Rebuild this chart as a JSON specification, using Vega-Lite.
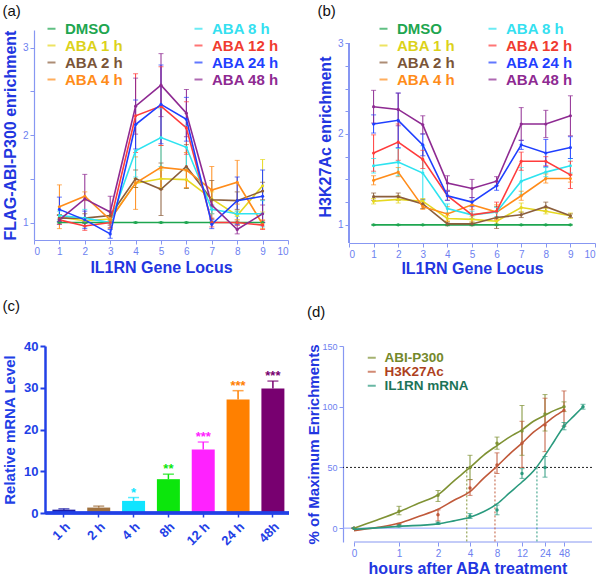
{
  "$schema": "https://vega.github.io/schema/vega-lite/v6.json",
  "padding": {"left": 2, "top": 4, "right": 0, "bottom": 0},
  "spacing": 23,
  "resolve": {"scale": {"color": "independent", "x": "independent", "y": "independent"}, "legend": {"color": "independent"}},
  "config": {
    "font": "Liberation Sans",
    "view": {"stroke": null},
    "axis": {"grid": false, "domainColor": "#8797f2", "tickColor": "#8797f2", "labelColor": "#6d7ff0", "labelFontSize": 10, "titleColor": "#2236e0", "titleFontSize": 16, "titleFontWeight": "bold", "tickSize": 4, "labelPadding": 2, "domainWidth": 1.2, "titlePadding": 4, "labelOverlap": false},
    "title": {"anchor": "start", "frame": "bounds", "fontSize": 15, "fontWeight": "normal", "color": "#111111"},
    "legend": {"labelFontSize": 15, "labelFontWeight": "bold", "symbolType": "stroke", "symbolSize": 64, "symbolStrokeWidth": 2, "labelOffset": 6, "padding": 0, "title": null}
  },
  "datasets": {
    "a": [
      {"series": "DMSO", "locus": 1, "value": 1, "lo": 0.995, "hi": 1.005},
      {"series": "DMSO", "locus": 2, "value": 1, "lo": 0.995, "hi": 1.005},
      {"series": "DMSO", "locus": 3, "value": 1, "lo": 0.995, "hi": 1.005},
      {"series": "DMSO", "locus": 4, "value": 1, "lo": 0.995, "hi": 1.005},
      {"series": "DMSO", "locus": 5, "value": 1, "lo": 0.995, "hi": 1.005},
      {"series": "DMSO", "locus": 6, "value": 1, "lo": 0.995, "hi": 1.005},
      {"series": "DMSO", "locus": 7, "value": 1, "lo": 0.995, "hi": 1.005},
      {"series": "DMSO", "locus": 8, "value": 1, "lo": 0.995, "hi": 1.005},
      {"series": "DMSO", "locus": 9, "value": 1, "lo": 0.995, "hi": 1.005},
      {"series": "ABA 1 h", "locus": 1, "value": 1.06, "lo": 1.03, "hi": 1.09},
      {"series": "ABA 1 h", "locus": 2, "value": 1.02, "lo": 0.99, "hi": 1.05},
      {"series": "ABA 1 h", "locus": 3, "value": 1.04, "lo": 1.01, "hi": 1.07},
      {"series": "ABA 1 h", "locus": 4, "value": 1.45, "lo": 1.40, "hi": 1.50},
      {"series": "ABA 1 h", "locus": 5, "value": 1.50, "lo": 1.40, "hi": 1.60},
      {"series": "ABA 1 h", "locus": 6, "value": 1.49, "lo": 1.39, "hi": 1.59},
      {"series": "ABA 1 h", "locus": 7, "value": 1.27, "lo": 1.19, "hi": 1.35},
      {"series": "ABA 1 h", "locus": 8, "value": 1.08, "lo": 1.03, "hi": 1.13},
      {"series": "ABA 1 h", "locus": 9, "value": 1.42, "lo": 1.12, "hi": 1.72},
      {"series": "ABA 2 h", "locus": 1, "value": 1.05, "lo": 1.01, "hi": 1.09},
      {"series": "ABA 2 h", "locus": 2, "value": 1.05, "lo": 1.00, "hi": 1.10},
      {"series": "ABA 2 h", "locus": 3, "value": 1.08, "lo": 1.03, "hi": 1.13},
      {"series": "ABA 2 h", "locus": 4, "value": 1.50, "lo": 1.40, "hi": 1.60},
      {"series": "ABA 2 h", "locus": 5, "value": 1.38, "lo": 1.08, "hi": 1.68},
      {"series": "ABA 2 h", "locus": 6, "value": 1.64, "lo": 1.39, "hi": 1.89},
      {"series": "ABA 2 h", "locus": 7, "value": 1.26, "lo": 1.04, "hi": 1.48},
      {"series": "ABA 2 h", "locus": 8, "value": 1.25, "lo": 1.15, "hi": 1.35},
      {"series": "ABA 2 h", "locus": 9, "value": 1.36, "lo": 1.26, "hi": 1.46},
      {"series": "ABA 4 h", "locus": 1, "value": 1.18, "lo": 0.93, "hi": 1.43},
      {"series": "ABA 4 h", "locus": 2, "value": 1.30, "lo": 1.25, "hi": 1.35},
      {"series": "ABA 4 h", "locus": 3, "value": 1.03, "lo": 0.93, "hi": 1.13},
      {"series": "ABA 4 h", "locus": 4, "value": 1.45, "lo": 1.15, "hi": 1.75},
      {"series": "ABA 4 h", "locus": 5, "value": 1.63, "lo": 1.38, "hi": 1.88},
      {"series": "ABA 4 h", "locus": 6, "value": 1.60, "lo": 1.40, "hi": 1.80},
      {"series": "ABA 4 h", "locus": 7, "value": 1.37, "lo": 1.10, "hi": 1.64},
      {"series": "ABA 4 h", "locus": 8, "value": 1.46, "lo": 1.21, "hi": 1.71},
      {"series": "ABA 4 h", "locus": 9, "value": 0.98, "lo": 0.93, "hi": 1.03},
      {"series": "ABA 8 h", "locus": 1, "value": 1.08, "lo": 1.03, "hi": 1.13},
      {"series": "ABA 8 h", "locus": 2, "value": 1.05, "lo": 0.95, "hi": 1.15},
      {"series": "ABA 8 h", "locus": 3, "value": 1.00, "lo": 0.97, "hi": 1.03},
      {"series": "ABA 8 h", "locus": 4, "value": 1.82, "lo": 1.52, "hi": 2.12},
      {"series": "ABA 8 h", "locus": 5, "value": 1.97, "lo": 1.64, "hi": 2.30},
      {"series": "ABA 8 h", "locus": 6, "value": 1.86, "lo": 1.61, "hi": 2.11},
      {"series": "ABA 8 h", "locus": 7, "value": 1.15, "lo": 1.10, "hi": 1.20},
      {"series": "ABA 8 h", "locus": 8, "value": 1.10, "lo": 1.07, "hi": 1.13},
      {"series": "ABA 8 h", "locus": 9, "value": 1.10, "lo": 0.95, "hi": 1.25},
      {"series": "ABA 12 h", "locus": 1, "value": 1.03, "lo": 0.98, "hi": 1.08},
      {"series": "ABA 12 h", "locus": 2, "value": 0.96, "lo": 0.91, "hi": 1.01},
      {"series": "ABA 12 h", "locus": 3, "value": 1.00, "lo": 0.97, "hi": 1.03},
      {"series": "ABA 12 h", "locus": 4, "value": 2.22, "lo": 1.80, "hi": 2.70},
      {"series": "ABA 12 h", "locus": 5, "value": 2.33, "lo": 1.88, "hi": 2.78},
      {"series": "ABA 12 h", "locus": 6, "value": 2.08, "lo": 1.78, "hi": 2.38},
      {"series": "ABA 12 h", "locus": 7, "value": 1.00, "lo": 0.95, "hi": 1.05},
      {"series": "ABA 12 h", "locus": 8, "value": 1.00, "lo": 0.97, "hi": 1.03},
      {"series": "ABA 12 h", "locus": 9, "value": 0.97, "lo": 0.92, "hi": 1.02},
      {"series": "ABA 24 h", "locus": 1, "value": 1.15, "lo": 1.01, "hi": 1.29},
      {"series": "ABA 24 h", "locus": 2, "value": 1.03, "lo": 0.93, "hi": 1.13},
      {"series": "ABA 24 h", "locus": 3, "value": 0.87, "lo": 0.82, "hi": 0.92},
      {"series": "ABA 24 h", "locus": 4, "value": 2.12, "lo": 1.84, "hi": 2.40},
      {"series": "ABA 24 h", "locus": 5, "value": 2.35, "lo": 1.90, "hi": 2.80},
      {"series": "ABA 24 h", "locus": 6, "value": 2.18, "lo": 1.93, "hi": 2.43},
      {"series": "ABA 24 h", "locus": 7, "value": 0.98, "lo": 0.93, "hi": 1.03},
      {"series": "ABA 24 h", "locus": 8, "value": 1.25, "lo": 0.98, "hi": 1.52},
      {"series": "ABA 24 h", "locus": 9, "value": 1.30, "lo": 1.00, "hi": 1.60},
      {"series": "ABA 48 h", "locus": 1, "value": 1.03, "lo": 0.98, "hi": 1.08},
      {"series": "ABA 48 h", "locus": 2, "value": 1.27, "lo": 0.99, "hi": 1.55},
      {"series": "ABA 48 h", "locus": 3, "value": 1.12, "lo": 0.94, "hi": 1.30},
      {"series": "ABA 48 h", "locus": 4, "value": 2.33, "lo": 2.01, "hi": 2.65},
      {"series": "ABA 48 h", "locus": 5, "value": 2.57, "lo": 2.21, "hi": 2.93},
      {"series": "ABA 48 h", "locus": 6, "value": 2.25, "lo": 1.98, "hi": 2.52},
      {"series": "ABA 48 h", "locus": 7, "value": 1.20, "lo": 1.15, "hi": 1.25},
      {"series": "ABA 48 h", "locus": 8, "value": 0.92, "lo": 0.87, "hi": 0.97},
      {"series": "ABA 48 h", "locus": 9, "value": 1.10, "lo": 1.00, "hi": 1.20}
    ],
    "b": [
      {"series": "DMSO", "locus": 1, "value": 1, "lo": 0.995, "hi": 1.005},
      {"series": "DMSO", "locus": 2, "value": 1, "lo": 0.995, "hi": 1.005},
      {"series": "DMSO", "locus": 3, "value": 1, "lo": 0.995, "hi": 1.005},
      {"series": "DMSO", "locus": 4, "value": 1, "lo": 0.995, "hi": 1.005},
      {"series": "DMSO", "locus": 5, "value": 1, "lo": 0.995, "hi": 1.005},
      {"series": "DMSO", "locus": 6, "value": 1, "lo": 0.995, "hi": 1.005},
      {"series": "DMSO", "locus": 7, "value": 1, "lo": 0.995, "hi": 1.005},
      {"series": "DMSO", "locus": 8, "value": 1, "lo": 0.995, "hi": 1.005},
      {"series": "DMSO", "locus": 9, "value": 1, "lo": 0.995, "hi": 1.005},
      {"series": "ABA 1 h", "locus": 1, "value": 1.26, "lo": 1.23, "hi": 1.29},
      {"series": "ABA 1 h", "locus": 2, "value": 1.28, "lo": 1.24, "hi": 1.32},
      {"series": "ABA 1 h", "locus": 3, "value": 1.26, "lo": 1.23, "hi": 1.29},
      {"series": "ABA 1 h", "locus": 4, "value": 1.07, "lo": 1.04, "hi": 1.10},
      {"series": "ABA 1 h", "locus": 5, "value": 1.06, "lo": 1.03, "hi": 1.09},
      {"series": "ABA 1 h", "locus": 6, "value": 1.04, "lo": 1.01, "hi": 1.07},
      {"series": "ABA 1 h", "locus": 7, "value": 1.19, "lo": 1.14, "hi": 1.24},
      {"series": "ABA 1 h", "locus": 8, "value": 1.15, "lo": 1.12, "hi": 1.18},
      {"series": "ABA 1 h", "locus": 9, "value": 1.10, "lo": 1.07, "hi": 1.13},
      {"series": "ABA 2 h", "locus": 1, "value": 1.31, "lo": 1.27, "hi": 1.35},
      {"series": "ABA 2 h", "locus": 2, "value": 1.31, "lo": 1.27, "hi": 1.35},
      {"series": "ABA 2 h", "locus": 3, "value": 1.23, "lo": 1.18, "hi": 1.28},
      {"series": "ABA 2 h", "locus": 4, "value": 1.01, "lo": 0.99, "hi": 1.03},
      {"series": "ABA 2 h", "locus": 5, "value": 1.01, "lo": 0.99, "hi": 1.03},
      {"series": "ABA 2 h", "locus": 6, "value": 1.08, "lo": 0.96, "hi": 1.20},
      {"series": "ABA 2 h", "locus": 7, "value": 1.11, "lo": 1.08, "hi": 1.14},
      {"series": "ABA 2 h", "locus": 8, "value": 1.20, "lo": 1.15, "hi": 1.25},
      {"series": "ABA 2 h", "locus": 9, "value": 1.10, "lo": 1.08, "hi": 1.12},
      {"series": "ABA 4 h", "locus": 1, "value": 1.49, "lo": 1.44, "hi": 1.54},
      {"series": "ABA 4 h", "locus": 2, "value": 1.58, "lo": 1.53, "hi": 1.63},
      {"series": "ABA 4 h", "locus": 3, "value": 1.20, "lo": 1.17, "hi": 1.23},
      {"series": "ABA 4 h", "locus": 4, "value": 1.12, "lo": 1.04, "hi": 1.20},
      {"series": "ABA 4 h", "locus": 5, "value": 1.22, "lo": 1.17, "hi": 1.27},
      {"series": "ABA 4 h", "locus": 6, "value": 1.14, "lo": 1.06, "hi": 1.22},
      {"series": "ABA 4 h", "locus": 7, "value": 1.32, "lo": 1.27, "hi": 1.37},
      {"series": "ABA 4 h", "locus": 8, "value": 1.51, "lo": 1.46, "hi": 1.56},
      {"series": "ABA 4 h", "locus": 9, "value": 1.51, "lo": 1.47, "hi": 1.55},
      {"series": "ABA 8 h", "locus": 1, "value": 1.65, "lo": 1.57, "hi": 1.73},
      {"series": "ABA 8 h", "locus": 2, "value": 1.69, "lo": 1.54, "hi": 1.84},
      {"series": "ABA 8 h", "locus": 3, "value": 1.57, "lo": 1.27, "hi": 1.87},
      {"series": "ABA 8 h", "locus": 4, "value": 1.18, "lo": 1.13, "hi": 1.23},
      {"series": "ABA 8 h", "locus": 5, "value": 1.11, "lo": 1.07, "hi": 1.15},
      {"series": "ABA 8 h", "locus": 6, "value": 1.14, "lo": 1.09, "hi": 1.19},
      {"series": "ABA 8 h", "locus": 7, "value": 1.48, "lo": 1.33, "hi": 1.63},
      {"series": "ABA 8 h", "locus": 8, "value": 1.58, "lo": 1.53, "hi": 1.63},
      {"series": "ABA 8 h", "locus": 9, "value": 1.65, "lo": 1.57, "hi": 1.73},
      {"series": "ABA 12 h", "locus": 1, "value": 1.79, "lo": 1.59, "hi": 1.99},
      {"series": "ABA 12 h", "locus": 2, "value": 1.91, "lo": 1.71, "hi": 2.11},
      {"series": "ABA 12 h", "locus": 3, "value": 1.72, "lo": 1.62, "hi": 1.82},
      {"series": "ABA 12 h", "locus": 4, "value": 1.32, "lo": 1.27, "hi": 1.37},
      {"series": "ABA 12 h", "locus": 5, "value": 1.11, "lo": 1.01, "hi": 1.21},
      {"series": "ABA 12 h", "locus": 6, "value": 1.15, "lo": 1.05, "hi": 1.25},
      {"series": "ABA 12 h", "locus": 7, "value": 1.70, "lo": 1.60, "hi": 1.80},
      {"series": "ABA 12 h", "locus": 8, "value": 1.70, "lo": 1.65, "hi": 1.75},
      {"series": "ABA 12 h", "locus": 9, "value": 1.55, "lo": 1.40, "hi": 1.70},
      {"series": "ABA 24 h", "locus": 1, "value": 2.11, "lo": 2.01, "hi": 2.21},
      {"series": "ABA 24 h", "locus": 2, "value": 2.15, "lo": 1.85, "hi": 2.45},
      {"series": "ABA 24 h", "locus": 3, "value": 1.88, "lo": 1.76, "hi": 2.00},
      {"series": "ABA 24 h", "locus": 4, "value": 1.32, "lo": 1.27, "hi": 1.37},
      {"series": "ABA 24 h", "locus": 5, "value": 1.25, "lo": 1.20, "hi": 1.30},
      {"series": "ABA 24 h", "locus": 6, "value": 1.43, "lo": 1.38, "hi": 1.48},
      {"series": "ABA 24 h", "locus": 7, "value": 1.88, "lo": 1.83, "hi": 1.93},
      {"series": "ABA 24 h", "locus": 8, "value": 1.79, "lo": 1.64, "hi": 1.94},
      {"series": "ABA 24 h", "locus": 9, "value": 1.85, "lo": 1.73, "hi": 1.97},
      {"series": "ABA 48 h", "locus": 1, "value": 2.30, "lo": 2.12, "hi": 2.48},
      {"series": "ABA 48 h", "locus": 2, "value": 2.27, "lo": 2.09, "hi": 2.45},
      {"series": "ABA 48 h", "locus": 3, "value": 2.10, "lo": 2.00, "hi": 2.20},
      {"series": "ABA 48 h", "locus": 4, "value": 1.46, "lo": 1.38, "hi": 1.54},
      {"series": "ABA 48 h", "locus": 5, "value": 1.40, "lo": 1.30, "hi": 1.50},
      {"series": "ABA 48 h", "locus": 6, "value": 1.48, "lo": 1.43, "hi": 1.53},
      {"series": "ABA 48 h", "locus": 7, "value": 2.11, "lo": 1.93, "hi": 2.29},
      {"series": "ABA 48 h", "locus": 8, "value": 2.11, "lo": 1.96, "hi": 2.26},
      {"series": "ABA 48 h", "locus": 9, "value": 2.20, "lo": 1.98, "hi": 2.42}
    ],
    "c": [
      {"time": "1 h", "value": 0.8, "hi": 1.0, "star": ""},
      {"time": "2 h", "value": 1.3, "hi": 1.65, "star": ""},
      {"time": "4 h", "value": 2.9, "hi": 3.7, "star": "*"},
      {"time": "8h", "value": 8.1, "hi": 9.3, "star": "**"},
      {"time": "12 h", "value": 15.2, "hi": 17.0, "star": "***"},
      {"time": "24 h", "value": 27.2, "hi": 29.3, "star": "***"},
      {"time": "48h", "value": 29.8, "hi": 31.6, "star": "***"}
    ],
    "dcurve": [
      {"series": "ABI-P300", "hour": 0, "pct": 0}, {"series": "ABI-P300", "hour": 0.5, "pct": 6.5}, {"series": "ABI-P300", "hour": 1, "pct": 13.5}, {"series": "ABI-P300", "hour": 1.5, "pct": 20.5}, {"series": "ABI-P300", "hour": 2, "pct": 27.5}, {"series": "ABI-P300", "hour": 3, "pct": 39}, {"series": "ABI-P300", "hour": 4, "pct": 50}, {"series": "ABI-P300", "hour": 6, "pct": 60}, {"series": "ABI-P300", "hour": 8, "pct": 68}, {"series": "ABI-P300", "hour": 10, "pct": 75}, {"series": "ABI-P300", "hour": 12, "pct": 81}, {"series": "ABI-P300", "hour": 18, "pct": 88}, {"series": "ABI-P300", "hour": 24, "pct": 93}, {"series": "ABI-P300", "hour": 36, "pct": 97}, {"series": "ABI-P300", "hour": 48, "pct": 100},
      {"series": "H3K27Ac", "hour": 0, "pct": -2}, {"series": "H3K27Ac", "hour": 0.5, "pct": 0.5}, {"series": "H3K27Ac", "hour": 1, "pct": 4}, {"series": "H3K27Ac", "hour": 1.5, "pct": 9.5}, {"series": "H3K27Ac", "hour": 2, "pct": 15.5}, {"series": "H3K27Ac", "hour": 3, "pct": 23}, {"series": "H3K27Ac", "hour": 4, "pct": 30}, {"series": "H3K27Ac", "hour": 6, "pct": 41}, {"series": "H3K27Ac", "hour": 8, "pct": 51}, {"series": "H3K27Ac", "hour": 10, "pct": 61}, {"series": "H3K27Ac", "hour": 12, "pct": 70}, {"series": "H3K27Ac", "hour": 18, "pct": 79}, {"series": "H3K27Ac", "hour": 24, "pct": 86}, {"series": "H3K27Ac", "hour": 36, "pct": 92}, {"series": "H3K27Ac", "hour": 48, "pct": 97},
      {"series": "IL1RN mRNA", "hour": 0, "pct": -1}, {"series": "IL1RN mRNA", "hour": 1, "pct": 1.5}, {"series": "IL1RN mRNA", "hour": 2, "pct": 3.5}, {"series": "IL1RN mRNA", "hour": 3, "pct": 6}, {"series": "IL1RN mRNA", "hour": 4, "pct": 9}, {"series": "IL1RN mRNA", "hour": 6, "pct": 13.5}, {"series": "IL1RN mRNA", "hour": 8, "pct": 20}, {"series": "IL1RN mRNA", "hour": 10, "pct": 29}, {"series": "IL1RN mRNA", "hour": 12, "pct": 38}, {"series": "IL1RN mRNA", "hour": 18, "pct": 47}, {"series": "IL1RN mRNA", "hour": 24, "pct": 60}, {"series": "IL1RN mRNA", "hour": 36, "pct": 72}, {"series": "IL1RN mRNA", "hour": 48, "pct": 84}, {"series": "IL1RN mRNA", "hour": 60, "pct": 92}, {"series": "IL1RN mRNA", "hour": 72, "pct": 100}
    ],
    "dpts": [
      {"series": "ABI-P300", "hour": 0, "pct": 0, "lo": 0, "hi": 0},
      {"series": "ABI-P300", "hour": 1, "pct": 14, "lo": 11, "hi": 18},
      {"series": "ABI-P300", "hour": 2, "pct": 27, "lo": 22, "hi": 31},
      {"series": "ABI-P300", "hour": 4, "pct": 50, "lo": 40, "hi": 60},
      {"series": "ABI-P300", "hour": 8, "pct": 70, "lo": 65, "hi": 75},
      {"series": "ABI-P300", "hour": 12, "pct": 80, "lo": 60, "hi": 101},
      {"series": "ABI-P300", "hour": 24, "pct": 94, "lo": 80, "hi": 110},
      {"series": "ABI-P300", "hour": 48, "pct": 100, "lo": 96, "hi": 104},
      {"series": "H3K27Ac", "hour": 0, "pct": 0, "lo": 0, "hi": 0},
      {"series": "H3K27Ac", "hour": 1, "pct": 3, "lo": 2, "hi": 4},
      {"series": "H3K27Ac", "hour": 2, "pct": 11, "lo": 6, "hi": 15},
      {"series": "H3K27Ac", "hour": 4, "pct": 33, "lo": 27, "hi": 40},
      {"series": "H3K27Ac", "hour": 8, "pct": 52, "lo": 45, "hi": 62},
      {"series": "H3K27Ac", "hour": 12, "pct": 70, "lo": 50, "hi": 88},
      {"series": "H3K27Ac", "hour": 24, "pct": 85, "lo": 63, "hi": 107},
      {"series": "H3K27Ac", "hour": 48, "pct": 97, "lo": 84, "hi": 113},
      {"series": "IL1RN mRNA", "hour": 0, "pct": 0, "lo": 0, "hi": 0},
      {"series": "IL1RN mRNA", "hour": 1, "pct": 2, "lo": 1, "hi": 3},
      {"series": "IL1RN mRNA", "hour": 2, "pct": 4, "lo": 3, "hi": 5},
      {"series": "IL1RN mRNA", "hour": 4, "pct": 10, "lo": 8, "hi": 12},
      {"series": "IL1RN mRNA", "hour": 8, "pct": 15, "lo": 11, "hi": 19},
      {"series": "IL1RN mRNA", "hour": 12, "pct": 45, "lo": 41, "hi": 49},
      {"series": "IL1RN mRNA", "hour": 24, "pct": 50, "lo": 42, "hi": 59},
      {"series": "IL1RN mRNA", "hour": 48, "pct": 84, "lo": 81, "hi": 87},
      {"series": "IL1RN mRNA", "hour": 72, "pct": 100, "lo": 98, "hi": 102}
    ],
    "dhalf": [
      {"series": "ABI-P300", "hour": 3.8, "pct": 50},
      {"series": "H3K27Ac", "hour": 7.7, "pct": 50},
      {"series": "IL1RN mRNA", "hour": 19.8, "pct": 50}
    ]
  },
  "vconcat": [
    {
      "spacing": 28,
      "resolve": {"scale": {"color": "independent", "x": "independent", "y": "independent"}, "legend": {"color": "independent"}},
      "hconcat": [
        {
          "width": 254, "height": 210,
          "title": {"text": "(a)", "offset": 2},
          "data": {"name": "a"},
          "encoding": {
            "x": {"field": "locus", "type": "quantitative", "scale": {"domain": [0, 10], "nice": false}, "axis": {"values": [0,1,2,3,4,5,6,7,8,9,10], "tickCount": 20, "format": "d", "title": "IL1RN Gene Locus", "titlePadding": 3}},
            "color": {"field": "series", "type": "nominal",
              "scale": {"domain": ["DMSO","ABA 1 h","ABA 2 h","ABA 4 h","ABA 8 h","ABA 12 h","ABA 24 h","ABA 48 h"], "range": ["#1ea650","#e6d820","#8b5e3c","#ff8c1a","#2ee3f0","#ff3c3c","#1f3fff","#8e2a92"]},
              "legend": {"orient": "none", "legendX": 10, "legendY": -9, "columns": 2, "columnPadding": 66, "rowPadding": 1,
                "labelColor": {"expr": "({'DMSO':'#1ea650','ABA 8 h':'#35e0f0','ABA 1 h':'#dcd21a','ABA 12 h':'#f03c30','ABA 2 h':'#7a5538','ABA 24 h':'#1f3fff','ABA 4 h':'#ff8c1a','ABA 48 h':'#8e2a92'})[datum.label]"}}}
          },
          "layer": [
            {"mark": {"type": "rule", "strokeWidth": 1}, "encoding": {"y": {"field": "lo", "type": "quantitative", "title": "FLAG-ABI-P300 enrichment", "scale": {"domain": [0.8, 3.2], "nice": false, "zero": false}}, "y2": {"field": "hi"}}},
            {"mark": {"type": "tick", "orient": "horizontal", "size": 5, "thickness": 1}, "encoding": {"y": {"field": "hi", "type": "quantitative", "title": "FLAG-ABI-P300 enrichment", "scale": {"domain": [0.8, 3.2], "nice": false, "zero": false}}}},
            {"mark": {"type": "tick", "orient": "horizontal", "size": 5, "thickness": 1}, "encoding": {"y": {"field": "lo", "type": "quantitative", "title": "FLAG-ABI-P300 enrichment", "scale": {"domain": [0.8, 3.2], "nice": false, "zero": false}}}},
            {"mark": {"type": "line", "strokeWidth": 1.6, "point": {"filled": true, "size": 10}}, "encoding": {"y": {"field": "value", "type": "quantitative", "title": "FLAG-ABI-P300 enrichment", "scale": {"domain": [0.8, 3.2], "nice": false, "zero": false}, "axis": {"values": [1, 1.5, 2, 2.5, 3], "tickCount": 20, "format": ".0f", "labelExpr": "datum.value % 1 == 0 ? datum.label : ''", "titlePadding": 4}}}}
          ]
        },
        {
          "width": 246, "height": 213,
          "title": {"text": "(b)", "offset": 2},
          "data": {"name": "b"},
          "encoding": {
            "x": {"field": "locus", "type": "quantitative", "scale": {"domain": [0, 10], "nice": false}, "axis": {"values": [0,1,2,3,4,5,6,7,8,9,10], "tickCount": 20, "format": "d", "title": "IL1RN Gene Locus", "titlePadding": 1}},
            "color": {"field": "series", "type": "nominal",
              "scale": {"domain": ["DMSO","ABA 1 h","ABA 2 h","ABA 4 h","ABA 8 h","ABA 12 h","ABA 24 h","ABA 48 h"], "range": ["#1ea650","#e6d820","#8b5e3c","#ff8c1a","#2ee3f0","#ff3c3c","#1f3fff","#8e2a92"]},
              "legend": {"orient": "none", "legendX": 27, "legendY": -9, "columns": 2, "columnPadding": 28, "rowPadding": 1,
                "labelColor": {"expr": "({'DMSO':'#1ea650','ABA 8 h':'#35e0f0','ABA 1 h':'#dcd21a','ABA 12 h':'#f03c30','ABA 2 h':'#7a5538','ABA 24 h':'#1f3fff','ABA 4 h':'#ff8c1a','ABA 48 h':'#8e2a92'})[datum.label]"}}}
          },
          "layer": [
            {"mark": {"type": "rule", "color": "#8797f2", "strokeWidth": 1.2}, "encoding": {"x": {"datum": 0, "type": "quantitative"}, "y": {"datum": 0.8, "type": "quantitative", "title": "H3K27Ac enrichment", "scale": {"domain": [0.8, 3.144], "nice": false, "zero": false}}, "y2": {"datum": 3.0}, "color": {"value": "#8797f2"}}},
            {"mark": {"type": "rule", "strokeWidth": 1}, "encoding": {"y": {"field": "lo", "type": "quantitative", "title": "H3K27Ac enrichment", "scale": {"domain": [0.8, 3.144], "nice": false, "zero": false}}, "y2": {"field": "hi"}}},
            {"mark": {"type": "tick", "orient": "horizontal", "size": 5, "thickness": 1}, "encoding": {"y": {"field": "hi", "type": "quantitative", "title": "H3K27Ac enrichment", "scale": {"domain": [0.8, 3.144], "nice": false, "zero": false}}}},
            {"mark": {"type": "tick", "orient": "horizontal", "size": 5, "thickness": 1}, "encoding": {"y": {"field": "lo", "type": "quantitative", "title": "H3K27Ac enrichment", "scale": {"domain": [0.8, 3.144], "nice": false, "zero": false}}}},
            {"mark": {"type": "line", "strokeWidth": 1.6, "point": {"filled": true, "size": 10}}, "encoding": {"y": {"field": "value", "type": "quantitative", "title": "H3K27Ac enrichment", "scale": {"domain": [0.8, 3.144], "nice": false, "zero": false}, "axis": {"domain": false, "values": [1, 1.25, 1.5, 1.75, 2, 2.25, 2.5, 2.75, 3], "tickCount": 20, "format": ".0f", "labelExpr": "datum.value % 1 == 0 ? datum.label : ''", "titlePadding": 4}}}}
          ]
        }
      ]
    },
    {
      "spacing": 15,
      "resolve": {"scale": {"color": "independent", "x": "independent", "y": "independent"}, "legend": {"color": "independent"}},
      "hconcat": [
        {
          "width": 255, "height": 167,
          "title": {"text": "(c)", "offset": 26},
          "data": {"name": "c"},
          "encoding": {
            "x": {"field": "time", "type": "nominal", "sort": null, "scale": {"paddingInner": 0.34, "paddingOuter": 0.33, "align": 0.8},
              "axis": {"title": null, "domain": false, "labelAngle": -45, "labelFontSize": 13, "labelFontWeight": "bold", "labelColor": "#2240e6", "tickColor": "#2240e6", "tickWidth": 1.5, "tickSize": 4, "labelPadding": 3}},
            "color": {"field": "time", "type": "nominal", "sort": null, "scale": {"domain": ["1 h","2 h","4 h","8h","12 h","24 h","48h"], "range": ["#1c1ca8","#a0713e","#10e4ff","#0ce60c","#ff22ff","#ff8000","#780070"]}, "legend": null}
          },
          "layer": [
            {"mark": {"type": "bar"}, "encoding": {"y": {"field": "value", "type": "quantitative", "title": "Relative mRNA Level", "scale": {"domain": [0, 40], "nice": false},
              "axis": {"values": [0, 10, 20, 30, 40], "tickCount": 20, "offset": -11, "labelFontSize": 13, "labelFontWeight": "bold", "labelColor": "#2240e6", "domainColor": "#2240e6", "domainWidth": 2.5, "tickColor": "#2240e6", "tickWidth": 2, "tickSize": 5, "titleFontSize": 15, "titleColor": "#2240e6", "titlePadding": 6}}}},
            {"mark": {"type": "rule", "strokeWidth": 2.5}, "encoding": {"x": {"datum": "1 h", "bandPosition": -0.3}, "x2": {"datum": "48h", "bandPosition": 1.2}, "y": {"datum": 0, "type": "quantitative", "title": "Relative mRNA Level", "scale": {"domain": [0, 40], "nice": false}}, "color": {"value": "#2240e6"}}},
            {"mark": {"type": "rule", "strokeWidth": 1.5}, "encoding": {"y": {"field": "value", "type": "quantitative", "title": "Relative mRNA Level", "scale": {"domain": [0, 40], "nice": false}}, "y2": {"field": "hi"}}},
            {"mark": {"type": "tick", "orient": "horizontal", "size": 11, "thickness": 1.5}, "encoding": {"y": {"field": "hi", "type": "quantitative", "title": "Relative mRNA Level", "scale": {"domain": [0, 40], "nice": false}}}},
            {"mark": {"type": "text", "baseline": "bottom", "dy": 2, "fontSize": 13, "fontWeight": "bold"}, "encoding": {"y": {"field": "hi", "type": "quantitative", "title": "Relative mRNA Level", "scale": {"domain": [0, 40], "nice": false}}, "text": {"field": "star"}}}
          ]
        },
        {
          "width": 249, "height": 196,
          "title": {"text": "(d)", "offset": 22},
          "layer": [
            {"data": {"values": [{"level": 0}]}, "mark": {"type": "rule", "color": "#93a3ff", "strokeWidth": 1}, "encoding": {"y": {"field": "level", "type": "quantitative", "title": "% of Maximum Enrichments", "scale": {"domain": [-11.4, 150], "nice": false, "zero": false}}}},
            {"data": {"values": [{"level": 50}]}, "mark": {"type": "rule", "color": "#222222", "strokeWidth": 1, "strokeDash": [2, 2]}, "encoding": {"y": {"field": "level", "type": "quantitative", "title": "% of Maximum Enrichments", "scale": {"domain": [-11.4, 150], "nice": false, "zero": false}}}},
            {"data": {"values": [{"level": -11.4, "from": 0, "to": 83}]}, "mark": {"type": "rule", "color": "#8797f2", "strokeWidth": 1.2},
              "encoding": {
                "x": {"field": "from", "type": "quantitative", "title": "hours after ABA treatment", "scale": {"domain": [-0.25, 0, 1, 2, 4, 8, 12, 24, 48, 72, 83], "range": [0, 11, 56, 95, 127, 154, 179, 202, 221, 240, 249], "nice": false, "zero": false}},
                "x2": {"field": "to"},
                "y": {"field": "level", "type": "quantitative", "title": "% of Maximum Enrichments", "scale": {"domain": [-11.4, 150], "nice": false, "zero": false}}
              }},
            {"data": {"name": "dhalf"}, "mark": {"type": "rule", "strokeWidth": 1, "strokeDash": [2, 2]},
              "encoding": {
                "x": {"field": "hour", "type": "quantitative", "title": "hours after ABA treatment", "scale": {"domain": [-0.25, 0, 1, 2, 4, 8, 12, 24, 48, 72, 83], "range": [0, 11, 56, 95, 127, 154, 179, 202, 221, 240, 249], "nice": false, "zero": false}, "axis": {"values": [0, 1, 2, 4, 8, 12, 24, 48], "tickCount": 20, "format": "d", "domain": false, "labelOverlap": false, "labelFlush": false, "titlePadding": 2}},
                "y": {"field": "pct", "type": "quantitative", "title": "% of Maximum Enrichments", "scale": {"domain": [-11.4, 150], "nice": false, "zero": false}, "axis": {"values": [0, 50, 100, 150], "tickCount": 20, "labelFontSize": 9, "titleFontSize": 15, "titlePadding": 0}},
                "y2": {"datum": -11.4},
                "color": {"field": "series", "type": "nominal", "scale": {"domain": ["ABI-P300", "H3K27Ac", "IL1RN mRNA"], "range": ["#7f9234", "#c0593a", "#2a9a7e"]},
                  "legend": {"orient": "none", "legendX": 22, "legendY": 5, "rowPadding": -6, "labelFontSize": 13.5,
                    "labelColor": {"expr": "({'ABI-P300':'#74882a','H3K27Ac':'#ae3f20','IL1RN mRNA':'#1c7358'})[datum.label]"}}}
              }},
            {"data": {"name": "dpts"}, "mark": {"type": "rule", "strokeWidth": 1},
              "encoding": {
                "x": {"field": "hour", "type": "quantitative", "title": "hours after ABA treatment", "scale": {"domain": [-0.25, 0, 1, 2, 4, 8, 12, 24, 48, 72, 83], "range": [0, 11, 56, 95, 127, 154, 179, 202, 221, 240, 249], "nice": false, "zero": false}},
                "y": {"field": "lo", "type": "quantitative", "title": "% of Maximum Enrichments", "scale": {"domain": [-11.4, 150], "nice": false, "zero": false}},
                "y2": {"field": "hi"},
                "color": {"field": "series", "type": "nominal", "scale": {"domain": ["ABI-P300", "H3K27Ac", "IL1RN mRNA"], "range": ["#7f9234", "#c0593a", "#2a9a7e"]}}
              }},
            {"data": {"name": "dpts"}, "mark": {"type": "tick", "orient": "horizontal", "size": 5, "thickness": 1},
              "encoding": {
                "x": {"field": "hour", "type": "quantitative", "title": "hours after ABA treatment", "scale": {"domain": [-0.25, 0, 1, 2, 4, 8, 12, 24, 48, 72, 83], "range": [0, 11, 56, 95, 127, 154, 179, 202, 221, 240, 249], "nice": false, "zero": false}},
                "y": {"field": "hi", "type": "quantitative", "title": "% of Maximum Enrichments", "scale": {"domain": [-11.4, 150], "nice": false, "zero": false}},
                "color": {"field": "series", "type": "nominal", "scale": {"domain": ["ABI-P300", "H3K27Ac", "IL1RN mRNA"], "range": ["#7f9234", "#c0593a", "#2a9a7e"]}}
              }},
            {"data": {"name": "dpts"}, "mark": {"type": "tick", "orient": "horizontal", "size": 5, "thickness": 1},
              "encoding": {
                "x": {"field": "hour", "type": "quantitative", "title": "hours after ABA treatment", "scale": {"domain": [-0.25, 0, 1, 2, 4, 8, 12, 24, 48, 72, 83], "range": [0, 11, 56, 95, 127, 154, 179, 202, 221, 240, 249], "nice": false, "zero": false}},
                "y": {"field": "lo", "type": "quantitative", "title": "% of Maximum Enrichments", "scale": {"domain": [-11.4, 150], "nice": false, "zero": false}},
                "color": {"field": "series", "type": "nominal", "scale": {"domain": ["ABI-P300", "H3K27Ac", "IL1RN mRNA"], "range": ["#7f9234", "#c0593a", "#2a9a7e"]}}
              }},
            {"data": {"name": "dpts"}, "mark": {"type": "point", "filled": true, "size": 12, "opacity": 1},
              "encoding": {
                "x": {"field": "hour", "type": "quantitative", "title": "hours after ABA treatment", "scale": {"domain": [-0.25, 0, 1, 2, 4, 8, 12, 24, 48, 72, 83], "range": [0, 11, 56, 95, 127, 154, 179, 202, 221, 240, 249], "nice": false, "zero": false}},
                "y": {"field": "pct", "type": "quantitative", "title": "% of Maximum Enrichments", "scale": {"domain": [-11.4, 150], "nice": false, "zero": false}},
                "color": {"field": "series", "type": "nominal", "scale": {"domain": ["ABI-P300", "H3K27Ac", "IL1RN mRNA"], "range": ["#7f9234", "#c0593a", "#2a9a7e"]}}
              }},
            {"data": {"name": "dcurve"}, "mark": {"type": "line", "strokeWidth": 1.6, "interpolate": "monotone"},
              "encoding": {
                "x": {"field": "hour", "type": "quantitative", "title": "hours after ABA treatment", "scale": {"domain": [-0.25, 0, 1, 2, 4, 8, 12, 24, 48, 72, 83], "range": [0, 11, 56, 95, 127, 154, 179, 202, 221, 240, 249], "nice": false, "zero": false}},
                "y": {"field": "pct", "type": "quantitative", "title": "% of Maximum Enrichments", "scale": {"domain": [-11.4, 150], "nice": false, "zero": false}},
                "color": {"field": "series", "type": "nominal", "scale": {"domain": ["ABI-P300", "H3K27Ac", "IL1RN mRNA"], "range": ["#7f9234", "#c0593a", "#2a9a7e"]}}
              }}
          ]
        }
      ]
    }
  ]
}
